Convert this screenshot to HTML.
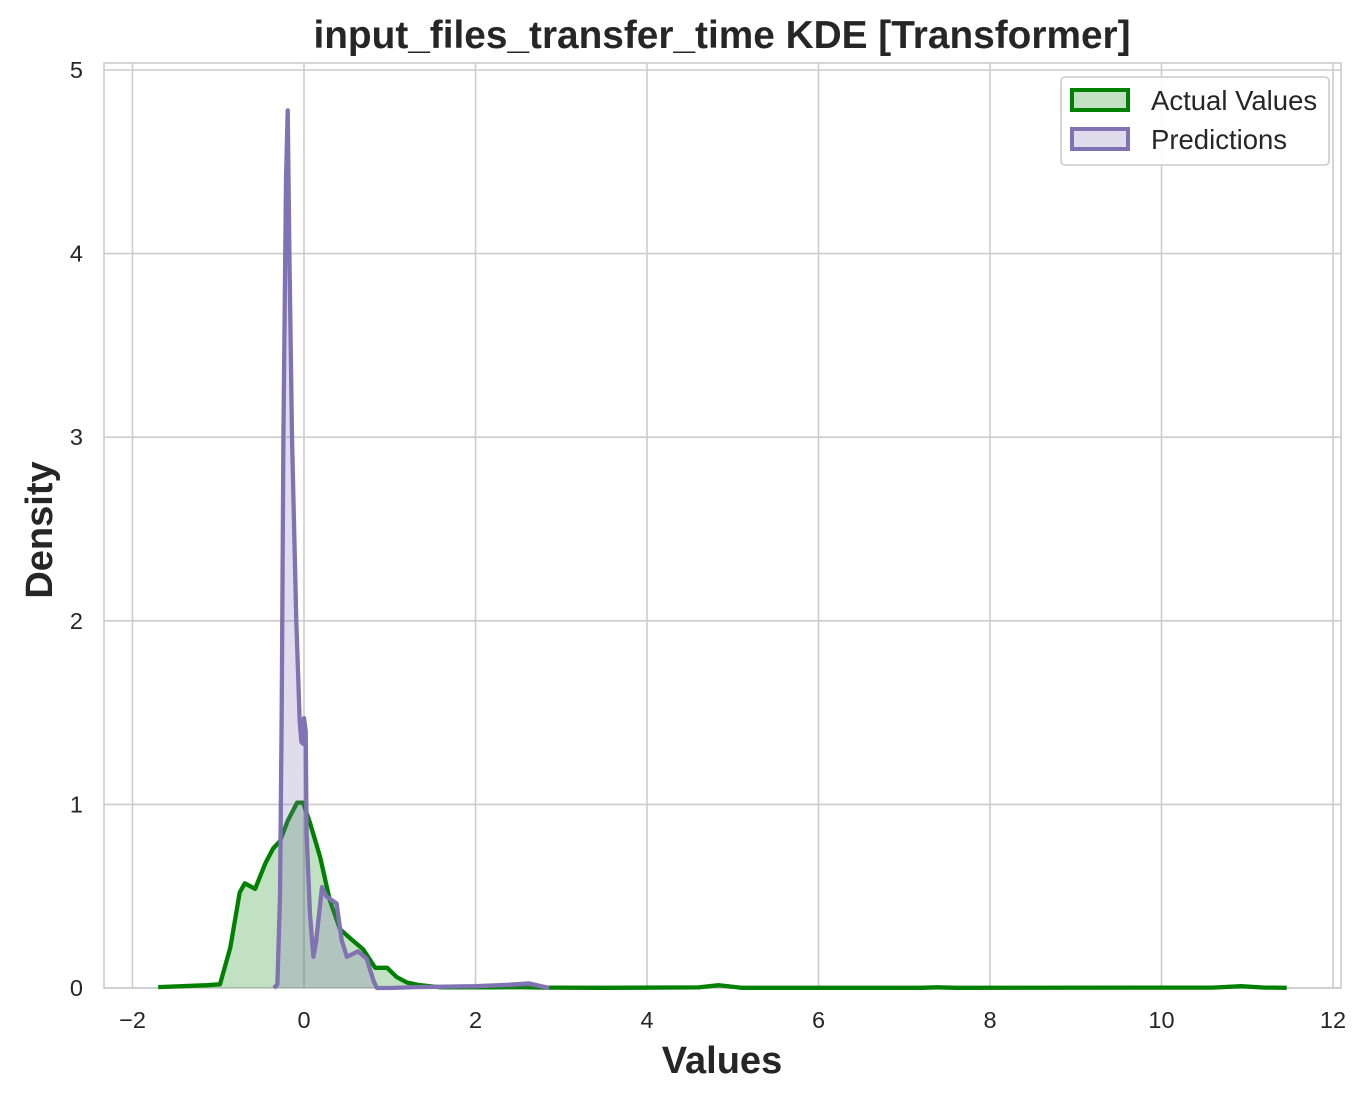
<!DOCTYPE html>
<html><head><meta charset="utf-8"><style>
body{margin:0;background:#fff;}
svg{display:block;font-family:"Liberation Sans",Arial,sans-serif;}
</style></head><body>
<svg id="chart" width="1371" height="1101"></svg>
<script>
const xTicks=[-2,0,2,4,6,8,10,12];
const yTicks=[0,1,2,3,4,5];
const actualX=[-1.70,-1.13,-0.98,-0.86,-0.75,-0.69,-0.57,-0.45,-0.36,-0.28,-0.19,-0.08,-0.01,0.07,0.19,0.30,0.42,0.54,0.69,0.83,0.97,1.08,1.20,1.35,1.6,2.2,2.5,2.8,3.5,4.6,4.84,5.1,7.2,7.38,7.6,10.6,10.93,11.2,11.46];
const actualY=[0.005,0.015,0.02,0.22,0.52,0.57,0.54,0.68,0.76,0.80,0.91,1.01,1.01,0.90,0.71,0.48,0.32,0.27,0.21,0.11,0.11,0.06,0.03,0.015,0.003,0.003,0.005,0.002,0.001,0.003,0.015,0.001,0.001,0.004,0.001,0.002,0.01,0.002,0.001];
const predX=[-0.35,-0.31,-0.28,-0.26,-0.24,-0.21,-0.19,-0.17,-0.14,-0.09,-0.05,-0.03,-0.01,0.0,0.02,0.03,0.07,0.11,0.14,0.21,0.26,0.32,0.38,0.44,0.50,0.63,0.73,0.81,0.85,1.0,1.3,2.0,2.4,2.62,2.86];
const predY=[0,0.02,0.5,1.5,3.0,4.4,4.78,4.0,3.0,2.0,1.45,1.34,1.33,1.47,1.40,0.84,0.4,0.17,0.25,0.55,0.50,0.48,0.46,0.26,0.17,0.20,0.16,0.04,0.0,0.0,0.005,0.01,0.018,0.025,0.0];

const svg=document.getElementById('chart');
const NS='http://www.w3.org/2000/svg';
const L=104,R=1341,T=63,B=988;
const sx=v=>304+v*85.75;
const sy=v=>988-v*183.6;
function mk(tag,attrs,parent){const e=document.createElementNS(NS,tag);for(const k in attrs)e.setAttribute(k,attrs[k]);(parent||svg).appendChild(e);return e;}

const grid=mk('g',{});


xTicks.forEach(t=>{
  const l=mk('line',{x1:sx(t),x2:sx(t),y1:T,y2:B,stroke:'#cccccc','stroke-width':1.6},grid);
  
  
  const tx=mk('text',{x:sx(t),y:1028,'text-anchor':'middle','font-size':23.5,fill:'#262626'});
  tx.textContent=(t<0?'\u2212'+(-t):t);
  
  
});
yTicks.forEach(t=>{
  const l=mk('line',{x1:L,x2:R,y1:sy(t),y2:sy(t),stroke:'#cccccc','stroke-width':1.6},grid);
  
  
  const tx=mk('text',{x:83,y:sy(t)+8,'text-anchor':'end','font-size':23.5,fill:'#262626'});
  tx.textContent=t;
  
  
});
const frame=mk('rect',{x:L,y:T,width:R-L,height:B-T,fill:'none',stroke:'#cccccc','stroke-width':1.6});



function series(xs,ys,color,fill,name){
  let d='';xs.forEach((x,i)=>{d+=(i?'L':'M')+sx(x).toFixed(1)+','+sy(ys[i]).toFixed(1);});
  const a=mk('path',{d:d+'L'+sx(xs[xs.length-1])+','+B+'L'+sx(xs[0])+','+B+'Z',fill:fill,stroke:'none'});
  
  
  const p=mk('path',{d:d,fill:'none',stroke:color,'stroke-width':4.3,'stroke-linejoin':'round'});
  
  
}
series(actualX,actualY,'#008000','rgba(0,128,0,0.24)','actual-values');
series(predX,predY,'#8172b3','rgba(129,114,179,0.25)','predictions');

const title=mk('text',{x:722,y:48,'text-anchor':'middle','font-size':38.8,'font-weight':'bold',fill:'#262626'});
title.textContent='input_files_transfer_time KDE [Transformer]';


const xl=mk('text',{x:722,y:1073,'text-anchor':'middle','font-size':38,'font-weight':'bold',fill:'#262626'});
xl.textContent='Values';


const yl=mk('text',{x:0,y:0,'text-anchor':'middle','font-size':38,'font-weight':'bold',fill:'#262626',transform:'translate(52,530) rotate(-90)'});
yl.textContent='Density';



const lg=mk('g',{});


mk('rect',{x:1061,y:77,width:268,height:88,rx:4,fill:'#fff','fill-opacity':0.85,stroke:'#cccccc','stroke-width':1.6},lg);
const entries=[['Actual Values','#008000','rgba(0,128,0,0.24)'],['Predictions','#8172b3','rgba(129,114,179,0.25)']];
entries.forEach((e,i)=>{
  const g=mk('g',{},lg);
  
  
  mk('rect',{x:1072,y:90+i*39,width:56,height:20,fill:e[2],stroke:e[1],'stroke-width':4},g);
  const t=mk('text',{x:1151,y:110+i*39,'font-size':27.5,fill:'#262626'},g);
  t.textContent=e[0];
});
</script>
</body></html>
